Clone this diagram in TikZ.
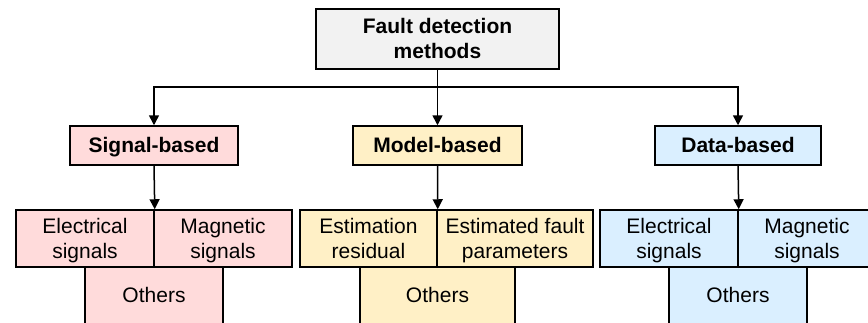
\documentclass[tikz,border=0pt]{standalone}
\usepackage{fontspec}
\setmainfont{Liberation Sans}
\usetikzlibrary{arrows.meta}
\definecolor{pinkf}{RGB}{255,219,219}
\definecolor{yellf}{RGB}{255,240,198}
\definecolor{bluef}{RGB}{218,239,255}
\definecolor{greyf}{RGB}{242,242,242}
\newcommand{\mystrut}{\rule[-5.5pt]{0pt}{25pt}}
\tikzset{
  box/.style={draw=black, line width=1.5pt, inner sep=0pt, align=center,
    font=\fontsize{21}{25}\selectfont},
  headbox/.style={box, font=\fontsize{21}{25}\selectfont\bfseries, minimum height=39pt},
  cellbox/.style={box, minimum height=57pt},
  arr/.style={line width=1.5pt, -{Triangle[width=10pt,length=10pt]}}
}
\begin{document}
\begin{tikzpicture}[x=1pt,y=-1pt]
\useasboundingbox (0,0) rectangle (868,322);
\clip (0,0) rectangle (868,322);
% top
\node[headbox, fill=greyf, minimum width=243pt, minimum height=60pt] (top) at (437.5,39) {\mystrut Fault detection\\\mystrut methods};
% level 2
\node[headbox, fill=pinkf, minimum width=168pt] (sb) at (154,145.5) {\mystrut Signal-based};
\node[headbox, fill=yellf, minimum width=169pt] (mb) at (437.5,145.5) {\mystrut Model-based};
\node[headbox, fill=bluef, minimum width=166pt] (db) at (738,145.5) {\mystrut Data-based};
% level 3 signal
\node[cellbox, fill=pinkf, minimum width=138pt] (sO) at (154,295.5) {\mystrut Others};
\node[cellbox, fill=pinkf, minimum width=138pt] (sE) at (85,238.5) {\mystrut Electrical\\\mystrut signals};
\node[cellbox, fill=pinkf, minimum width=138pt] (sM) at (223,238.5) {\mystrut Magnetic\\\mystrut signals};
% level 3 model
\node[cellbox, fill=yellf, minimum width=155pt] (mO) at (437.5,295.5) {\mystrut Others};
\node[cellbox, fill=yellf, minimum width=137pt] (mE) at (368.5,238.5) {\mystrut Estimation\\\mystrut residual};
\node[cellbox, fill=yellf, minimum width=156pt] (mP) at (515,238.5) {\mystrut Estimated fault\\\mystrut parameters};
% level 3 data
\node[cellbox, fill=bluef, minimum width=138pt] (dO) at (738,295.5) {\mystrut Others};
\node[cellbox, fill=bluef, minimum width=138pt] (dE) at (669,238.5) {\mystrut Electrical\\\mystrut signals};
\node[cellbox, fill=bluef, minimum width=138pt] (dM) at (807,238.5) {\mystrut Magnetic\\\mystrut signals};
% connectors
\coordinate (j) at (437.5,87);
\draw[arr] (top.south) -- (mb.north);
\draw[arr] (j) -| (sb.north);
\draw[arr] (j) -| (db.north);
\draw[arr] (sb.south) -- (sE.north east);
\draw[arr] (mb.south) -- (mE.north east);
\draw[arr] (db.south) -- (dE.north east);
\end{tikzpicture}
\end{document}
